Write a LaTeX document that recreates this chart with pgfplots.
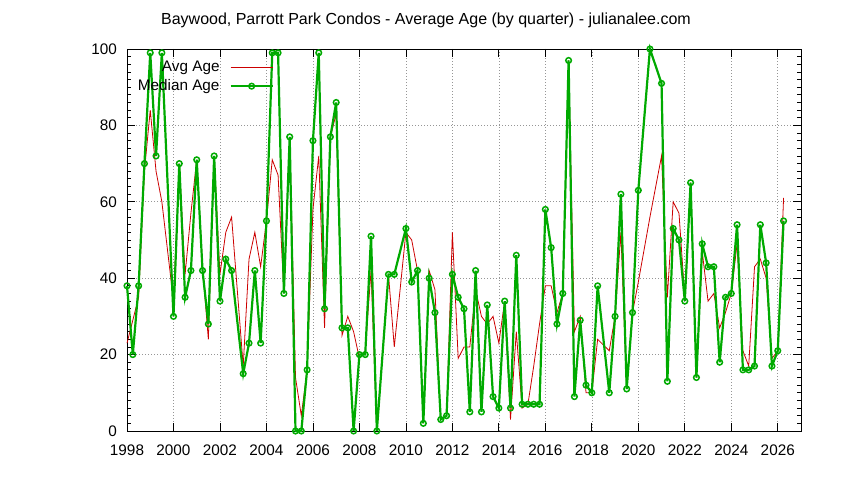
\documentclass[border=0pt]{standalone}
\usepackage{pgfplots}
\pgfplotsset{compat=1.18}
\usepackage{pgfplotstable}
\usepackage{fontspec}
\setmainfont{Liberation Sans}

\definecolor{avgred}{RGB}{204,0,0}
\definecolor{medgreen}{RGB}{0,170,0}
\definecolor{gridgray}{RGB}{150,150,150}

% quarter, average age, median age
\pgfplotstableread{
year avg median
1998.00 23 38
1998.25 29 20
1998.50 35 38
1998.75 68 70
1999.00 84 99
1999.25 68 72
1999.50 60 99
2000.00 34 30
2000.25 70 70
2000.50 41 35
2000.75 57 42
2001.00 71 71
2001.25 43 42
2001.50 24 28
2001.75 72 72
2002.00 41 34
2002.25 52 45
2002.50 56 42
2003.00 17 15
2003.25 45 23
2003.50 52 42
2003.75 43 23
2004.00 55 55
2004.25 71 99
2004.50 67 99
2004.75 36 36
2005.00 77 77
2005.25 14 0
2005.50 4 0
2005.75 16 16
2006.00 58 76
2006.25 72 99
2006.50 27 32
2006.75 77 77
2007.00 83 86
2007.25 25 27
2007.50 30 27
2007.75 26 0
2008.00 19 20
2008.25 21 20
2008.50 42 51
2008.75 0 0
2009.25 41 41
2009.50 22 41
2010.00 52 53
2010.25 50 39
2010.50 42 42
2010.75 2 2
2011.00 42 40
2011.25 37 31
2011.50 3 3
2011.75 4 4
2012.00 52 41
2012.25 19 35
2012.50 22 32
2012.75 22 5
2013.00 37 42
2013.25 30 5
2013.50 28 33
2013.75 30 9
2014.00 23 6
2014.25 34 34
2014.50 3 6
2014.75 26 46
2015.00 6 7
2015.25 7 7
2015.50 17 7
2015.75 28 7
2016.00 38 58
2016.25 38 48
2016.50 31 28
2016.75 36 36
2017.00 97 97
2017.25 26 9
2017.50 30 29
2017.75 10 12
2018.00 10 10
2018.25 24 38
2018.75 21 10
2019.00 30 30
2019.25 52 62
2019.50 11 11
2019.75 31 31
2020.00 39 63
2020.50 56 100
2021.00 72 91
2021.25 35 13
2021.50 60 53
2021.75 57 50
2022.00 35 34
2022.25 65 65
2022.50 14 14
2022.75 47 49
2023.00 34 43
2023.25 36 43
2023.50 27 18
2023.75 31 35
2024.00 36 36
2024.25 49 54
2024.50 21 16
2024.75 17 16
2025.00 43 17
2025.25 45 54
2025.50 40 44
2025.75 19 17
2026.00 21 21
2026.25 61 55
}\agedata

\begin{document}
\fontsize{15.3bp}{18bp}\selectfont
\begin{tikzpicture}
\useasboundingbox (0,0) rectangle (844bp,480bp);
\node[font=\fontsize{16bp}{19bp}\selectfont] at (426bp,460bp)
  {Baywood, Parrott Park Condos - Average Age (by quarter) - julianalee.com};
\begin{axis}[
    at={(127bp,49bp)}, anchor=south west,
    scale only axis, width=674bp, height=382bp,
    xmin=1998, xmax=2027, ymin=0, ymax=100,
    xtick={1998,2000,...,2026}, minor x tick num=1,
    ytick={0,20,...,100}, minor y tick num=9,
    xmajorgrids, xminorgrids, ymajorgrids,
    grid style={gridgray, line width=0.6bp, dash pattern=on 1bp off 2bp},
    major tick length=8bp, minor tick length=4.5bp,
    tick style={black, line width=0.8bp},
    axis line style={line width=0.9bp},
    /pgf/number format/assume math mode=true,
    /pgf/number format/1000 sep={},
    xticklabel style={inner sep=0pt, yshift=-14bp},
    yticklabel style={inner sep=0pt, xshift=-10bp},
    clip=false,
    legend style={draw=none, fill=none, at={(0.218,0.97)}, anchor=north east,
        inner sep=0pt, row sep=6bp, column sep=10bp, nodes={inner sep=0pt}},
    legend plot pos=right, legend cell align=right,
    legend image code/.code={\draw[mark repeat=2,mark phase=2,#1]
        plot coordinates {(0bp,0bp) (21bp,0bp) (42bp,0bp)};},
]
\addplot[avgred, line width=0.8bp, no marks] table[x=year, y=avg] {\agedata};
\addlegendentry{Avg Age}
\addplot[medgreen, line width=2.2bp, mark=o, mark size=2.8bp,
    mark options={line width=1.5bp, fill=white}] table[x=year, y=median] {\agedata};
\addlegendentry{Median Age}
\end{axis}
\end{tikzpicture}
\end{document}
